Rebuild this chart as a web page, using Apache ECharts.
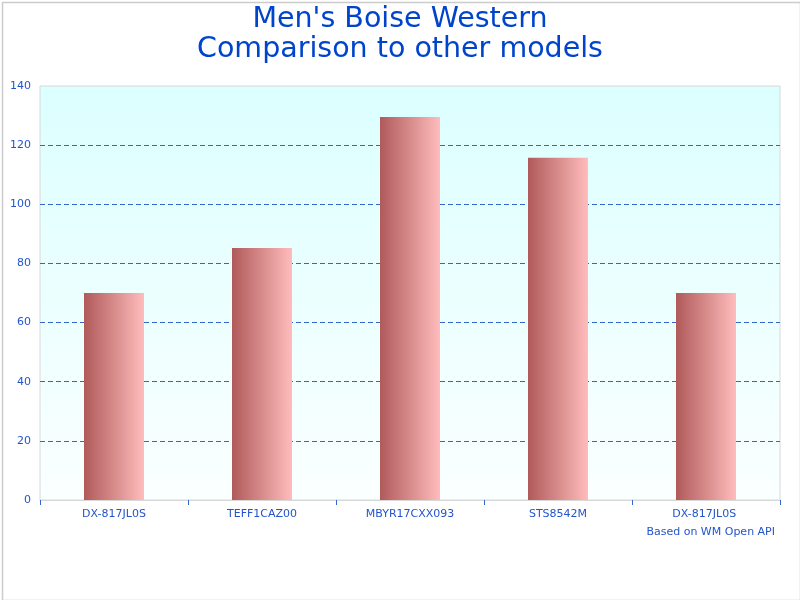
<!DOCTYPE html>
<html>
<head>
<meta charset="utf-8">
<script src="https://cdn.jsdelivr.net/npm/echarts@6/dist/echarts.min.js"></script>
<style>html,body{margin:0;padding:0;background:#fff}#c{width:800px;height:600px}</style>
</head>
<body>
<div id="c"></div>
<script>
const categories = ['DX-817JL0S', 'TEFF1CAZ00', 'MBYR17CXX093', 'STS8542M', 'DX-817JL0S '];
const values = [70, 85.2, 129.5, 115.7, 70];
const yTicks = { min: 0, max: 140, interval: 20 };

const blue = '#2255cc';
const chart = echarts.init(document.getElementById('c'), null, { renderer: 'canvas' });
chart.setOption({
  animation: false,
  textStyle: { fontFamily: 'DejaVu Sans' },
  title: [
    {
      text: "Men's Boise Western\nComparison to other models",
      left: 'center', top: 0,
      textStyle: { color: '#0044cc', fontSize: 28.5, fontWeight: 'normal', lineHeight: 30, fontFamily: 'DejaVu Sans' }
    },
    {
      text: 'Based on WM Open API',
      right: 20, top: 522,
      textStyle: { color: blue, fontSize: 11, fontWeight: 'normal', fontFamily: 'DejaVu Sans' }
    }
  ],
  graphic: [{
    type: 'rect', left: 0, top: 0, silent: true,
    shape: { x: 0.5, y: 0.5, width: 798, height: 598 },
    style: { fill: 'none', stroke: '#cccccc', lineWidth: 1.5 }
  }],
  grid: {
    left: 40, right: 20, top: 86, bottom: 100,
    show: true,
    borderColor: '#d8d8d8', borderWidth: 1,
    backgroundColor: new echarts.graphic.LinearGradient(0, 0, 0, 1, [
      { offset: 0, color: '#dcffff' },
      { offset: 1, color: '#fbffff' }
    ])
  },
  xAxis: {
    type: 'category',
    data: categories,
    axisLine: { show: true, lineStyle: { color: '#d8d8d8' } },
    axisTick: { show: true, length: 5, lineStyle: { color: '#3366cc' } },
    axisLabel: { color: blue, fontSize: 11, margin: 9, fontFamily: 'DejaVu Sans' }
  },
  yAxis: {
    type: 'value',
    min: yTicks.min, max: yTicks.max, interval: yTicks.interval,
    axisLine: { show: false },
    axisTick: { show: false },
    axisLabel: { color: blue, fontSize: 11, margin: 9, fontFamily: 'DejaVu Sans' },
    splitLine: {
      show: true,
      showMinLine: false,
      showMaxLine: false,
      lineStyle: { color: '#3366cc', type: [5, 3], width: 1 }
    }
  },
  series: [{
    type: 'bar',
    data: values,
    barWidth: 60,
    itemStyle: {
      color: new echarts.graphic.LinearGradient(0, 0, 1, 0, [
        { offset: 0, color: '#b05a5a' },
        { offset: 1, color: '#ffbcbc' }
      ])
    }
  }]
});
</script>
</body>
</html>
